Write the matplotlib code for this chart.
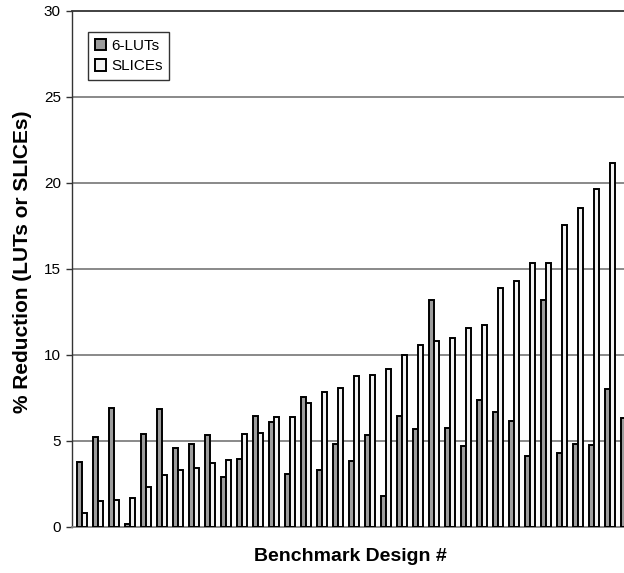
import numpy as np
import matplotlib.pyplot as plt

# % reduction per benchmark design (35 visible groups, last slice cut off)
luts = [3.77, 5.24, 6.89, 0.15, 5.42, 6.87, 4.60, 4.85, 5.36, 2.89,
        3.98, 6.48, 6.11, 3.08, 7.53, 3.34, 4.85, 3.81, 5.34, 1.83,
        6.46, 5.71, 13.2, 5.75, 4.72, 7.36, 6.66, 6.19, 4.13, 13.2,
        4.33, 4.80, 4.74, 8.02, 6.31]
slices = [0.81, 1.49, 1.57, 1.71, 2.35, 3.05, 3.34, 3.42, 3.75, 3.90,
          5.38, 5.45, 6.40, 6.40, 7.22, 7.84, 8.06, 8.79, 8.83, 9.16,
          9.98, 10.6, 10.8, 10.97, 11.55, 11.73, 13.88, 14.33, 15.32, 15.32,
          17.55, 18.56, 19.65, 21.14, np.nan]
series_names = ["6-LUTs", "SLICEs"]
y_ticks = [0, 5, 10, 15, 20, 25, 30]

plt.rcParams['font.family'] = ['Liberation Sans', 'DejaVu Sans']

fig = plt.figure(figsize=(6.24, 5.73), dpi=100)
ax = fig.add_axes([72 / 624, 46 / 573, 1 - 72 / 624, 516 / 573])

x = np.arange(len(luts))
w = 0.31
ax.bar(x - w / 2, luts, w, color='#9c9c9c', edgecolor='black', linewidth=1.4,
       label=series_names[0], zorder=3)
ax.bar(x + w / 2, slices, w, color='#f2f2f2', edgecolor='black', linewidth=1.4,
       label=series_names[1], zorder=3)

ax.set_xlim(-0.64, 33.86)
ax.set_ylim(0, 30)
ax.set_yticks(y_ticks)
ax.set_xticks([])
ax.tick_params(axis='y', labelsize=11, length=4.5, width=1, color='#333333', pad=3.5)

# horizontal grid lines
for v in y_ticks[1:-1]:
    ax.axhline(v, color='#808080', linewidth=1.3, zorder=1)

ax.spines['right'].set_visible(False)
ax.spines['top'].set_color('#333333')
ax.spines['top'].set_linewidth(1.3)
ax.spines['left'].set_color('#333333')
ax.spines['left'].set_linewidth(1.0)
ax.spines['bottom'].set_color('#808080')
ax.spines['bottom'].set_linewidth(1.3)

ax.set_ylabel("% Reduction (LUTs or SLICEs)", fontsize=15, fontweight='bold')
ax.yaxis.set_label_coords(-0.072, 0.515)
ax.set_xlabel("Benchmark Design #", fontsize=14, fontweight='bold')
ax.xaxis.set_label_coords(0.505, -0.041)

leg = ax.legend(loc='upper left', bbox_to_anchor=(0.029, 0.96), borderaxespad=0,
                fontsize=11, frameon=True, fancybox=False, edgecolor='black',
                handlelength=0.75, handleheight=0.75, handletextpad=0.3,
                labelspacing=0.45, borderpad=0.45)
leg.get_frame().set_linewidth(1.0)

fig.savefig("out.png", dpi=100)
